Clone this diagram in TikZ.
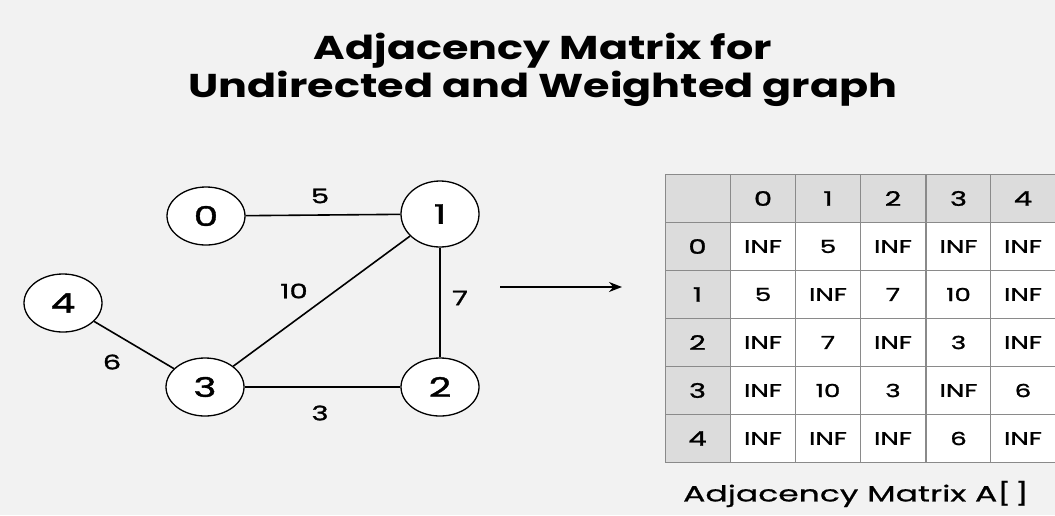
\documentclass[tikz,border=0pt]{standalone}
\usepackage{fontspec}
\setmainfont{Poppins}
\newfontfamily\titlefont{Poppins}[FakeStretch=1.3]
\newfontfamily\widefont{Poppins}[FakeStretch=1.45,FakeBold=1.4]
\newfontfamily\capfont{Poppins}[FakeStretch=1.5,FakeBold=0.8]
\usetikzlibrary{arrows.meta,shapes.geometric}
\definecolor{bg}{HTML}{F2F2F2}
\definecolor{hdr}{HTML}{DCDCDC}
\definecolor{grid}{HTML}{8A8A8A}
\tikzset{
  vtx/.style={ellipse, draw=black, line width=1.3pt, fill=white, minimum width=78pt, minimum height=58pt, inner sep=0pt, font=\widefont\fontsize{27}{27}\selectfont},
  edge/.style={line width=1.6pt, black},
  wlabel/.style={font=\widefont\fontsize{20}{20}\selectfont},
  hcell/.style={draw=grid, line width=1pt, fill=hdr, minimum width=65pt, minimum height=48pt, inner sep=0pt, font=\widefont\fontsize{20}{20}\selectfont},
  vcell/.style={draw=grid, line width=1pt, fill=white, minimum width=65pt, minimum height=48pt, inner sep=0pt, font=\widefont\fontsize{18}{18}\selectfont},
}
\begin{document}
\begin{tikzpicture}[x=1pt,y=-1pt]
\fill[bg] (0,0) rectangle (1055,515);
\useasboundingbox (0,0) rectangle (1055,515);
% title
\node[font=\titlefont\fontsize{33}{38}\selectfont\bfseries, align=center] (title) at (543,70) {Adjacency Matrix for\\Undirected and Weighted graph};
% graph
\node[vtx] (n0) at (206,216) {0};
\node[vtx, minimum height=66pt] (n1) at (440,214) {1};
\node[vtx] (n4) at (63,303) {4};
\node[vtx] (n3) at (205,387) {3};
\node[vtx] (n2) at (440,387) {2};
\draw[edge] (n0) -- (n1);
\draw[edge] (n1) -- (n2);
\draw[edge] (n1) -- (n3);
\draw[edge] (n3) -- (n2);
\draw[edge] (n4) -- (n3);
\node[wlabel] (w5) at (320,196) {5};
\node[wlabel] (w10) at (294,291) {10};
\node[wlabel] (w7) at (460,298) {7};
\node[wlabel] (w6) at (112,362) {6};
\node[wlabel] (w3) at (320,413) {3};
% arrow
\coordinate (as) at (500,287);
\coordinate (ae) at (622,287);
\draw[line width=1.5pt, -{Stealth[length=13pt,width=10pt]}] (as) -- (ae);
% matrix
\node[hcell] (h-c) at (697.5,198.5) {};
\foreach \j/\x in {0/763,1/828,2/893,3/958.5,4/1023}{
  \node[hcell] (h-\j) at (\x,198.5) {\j};
}
\foreach \i/\y in {0/246.5,1/294.5,2/342.5,3/390.5,4/438.5}{
  \node[hcell] (r-\i) at (697.5,\y) {\i};
}
\foreach \i/\y/\a/\b/\c/\d/\e in {0/246.5/INF/5/INF/INF/INF,1/294.5/5/INF/7/10/INF,2/342.5/INF/7/INF/3/INF,3/390.5/INF/10/3/INF/6,4/438.5/INF/INF/INF/6/INF}{
  \node[vcell] (c-\i-0) at (763,\y) {\a};
  \node[vcell] (c-\i-1) at (828,\y) {\b};
  \node[vcell] (c-\i-2) at (893,\y) {\c};
  \node[vcell] (c-\i-3) at (958.5,\y) {\d};
  \node[vcell] (c-\i-4) at (1023,\y) {\e};
}
\node[font=\capfont\fontsize{22}{22}\selectfont] (cap) at (856,494) {Adjacency Matrix A[\,]};
\end{tikzpicture}
\end{document}
